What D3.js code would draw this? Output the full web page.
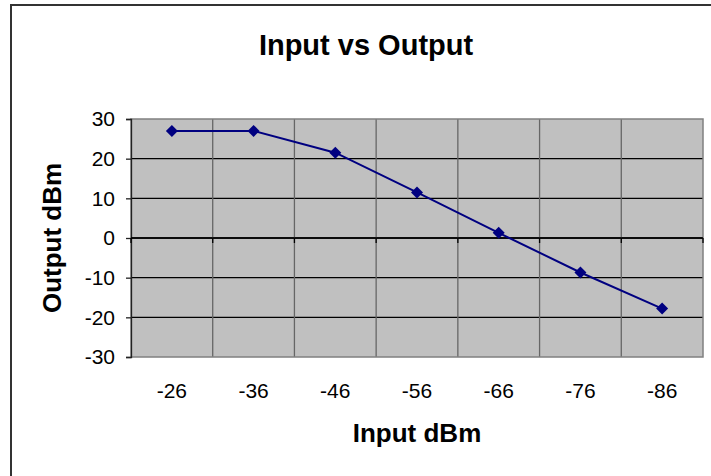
<!DOCTYPE html>
<html>
<head>
  <meta charset="UTF-8">
  <title>Input vs Output</title>
  <style>
    body { margin: 0; background: #fff; }
    svg { display: block; font-family: Arial, "Liberation Sans", sans-serif; }
  </style>
</head>
<body>
  <svg width="711" height="476"></svg>

  <script src="https://d3js.org/d3.v7.min.js"></script>
  <script>
    // Chart data
    const inputLabels = ['-26', '-36', '-46', '-56', '-66', '-76', '-86'];
    const outputValues = [27, 27, 21.5, 11.5, 1.3, -8.7, -17.8];
    const yTicks = [-30, -20, -10, 0, 10, 20, 30];

    const plot = { left: 131, top: 119, right: 703, bottom: 357 };

    const svg = d3.select('svg');

    // Outer chart border (runs past the window on right and bottom)
    svg.append('rect')
      .attr('x', 11).attr('y', 5)
      .attr('width', 760).attr('height', 520)
      .attr('fill', 'none')
      .attr('stroke', '#333')
      .attr('stroke-width', 2);

    const x = d3.scaleBand()
      .domain(inputLabels)
      .range([plot.left, plot.right])
      .padding(0);

    const y = d3.scaleLinear()
      .domain([-30, 30])
      .range([plot.bottom, plot.top]);

    // Plot area background
    svg.append('rect')
      .attr('x', plot.left).attr('y', plot.top)
      .attr('width', plot.right - plot.left)
      .attr('height', plot.bottom - plot.top)
      .attr('fill', '#c0c0c0');

    // Horizontal gridlines
    svg.append('g')
      .selectAll('line')
      .data(yTicks.filter(d => d !== -30 && d !== 30))
      .join('line')
      .attr('x1', plot.left).attr('x2', plot.right)
      .attr('y1', d => y(d)).attr('y2', d => y(d))
      .attr('stroke', '#000')
      .attr('stroke-width', 1.3);

    // Vertical gridlines at category boundaries
    svg.append('g')
      .selectAll('line')
      .data(inputLabels.slice(1))
      .join('line')
      .attr('x1', d => x(d)).attr('x2', d => x(d))
      .attr('y1', plot.top).attr('y2', plot.bottom)
      .attr('stroke', '#666')
      .attr('stroke-width', 1.3);

    // Plot area border
    svg.append('rect')
      .attr('x', plot.left).attr('y', plot.top)
      .attr('width', plot.right - plot.left)
      .attr('height', plot.bottom - plot.top)
      .attr('fill', 'none')
      .attr('stroke', '#808080')
      .attr('stroke-width', 1.5);

    // Y axis (plain hyphen minus like the original)
    const yAxis = svg.append('g')
      .attr('transform', `translate(${plot.left},0)`)
      .call(d3.axisLeft(y).tickValues(yTicks).tickFormat(d => String(d)).tickSize(5).tickPadding(11));
    yAxis.select('.domain').attr('stroke', '#222').attr('stroke-width', 1.3);
    yAxis.selectAll('.tick line').attr('stroke', '#222').attr('stroke-width', 1.3);
    yAxis.selectAll('.tick text')
      .attr('font-size', '21px')
      .attr('fill', '#000')
      .attr('font-family', 'Arial, "Liberation Sans", sans-serif');

    // X axis crosses at zero, with tick marks at category boundaries
    const zeroAxis = svg.append('g')
      .attr('transform', `translate(0,${y(0)})`);
    zeroAxis.append('line')
      .attr('x1', plot.left).attr('x2', plot.right)
      .attr('stroke', '#000').attr('stroke-width', 1.5);
    zeroAxis.selectAll('.bound')
      .data(inputLabels)
      .join('line')
      .attr('class', 'bound')
      .attr('x1', d => x(d)).attr('x2', d => x(d))
      .attr('y1', 0).attr('y2', 5)
      .attr('stroke', '#000').attr('stroke-width', 1.3);
    zeroAxis.append('line')
      .attr('x1', plot.right).attr('x2', plot.right)
      .attr('y1', 0).attr('y2', 5)
      .attr('stroke', '#000').attr('stroke-width', 1.3);

    // Category labels below the plot
    const xLabels = svg.append('g')
      .attr('transform', `translate(0,${plot.bottom})`)
      .call(d3.axisBottom(x).tickSize(0).tickPadding(26));
    xLabels.select('.domain').remove();
    xLabels.selectAll('.tick text')
      .attr('font-size', '21px')
      .attr('fill', '#000')
      .attr('font-family', 'Arial, "Liberation Sans", sans-serif');

    // Series line
    const line = d3.line()
      .x((d, i) => x(inputLabels[i]) + x.bandwidth() / 2)
      .y(d => y(d));

    svg.append('path')
      .datum(outputValues)
      .attr('d', line)
      .attr('fill', 'none')
      .attr('stroke', '#000080')
      .attr('stroke-width', 2);

    // Diamond markers
    svg.append('g')
      .selectAll('path')
      .data(outputValues)
      .join('path')
      .attr('transform', (d, i) => `translate(${x(inputLabels[i]) + x.bandwidth() / 2},${y(d)})`)
      .attr('d', 'M0,-6L6,0L0,6L-6,0Z')
      .attr('fill', '#000080');

    // Titles
    svg.append('text')
      .attr('x', 366).attr('y', 55)
      .attr('text-anchor', 'middle')
      .attr('font-size', '29px')
      .attr('font-weight', 'bold')
      .text('Input vs Output');

    svg.append('text')
      .attr('x', (plot.left + plot.right) / 2).attr('y', 442)
      .attr('text-anchor', 'middle')
      .attr('font-size', '26px')
      .attr('font-weight', 'bold')
      .text('Input dBm');

    svg.append('text')
      .attr('transform', `translate(61,${(plot.top + plot.bottom) / 2}) rotate(-90)`)
      .attr('text-anchor', 'middle')
      .attr('font-size', '26px')
      .attr('font-weight', 'bold')
      .text('Output dBm');
  </script>
</body>
</html>
